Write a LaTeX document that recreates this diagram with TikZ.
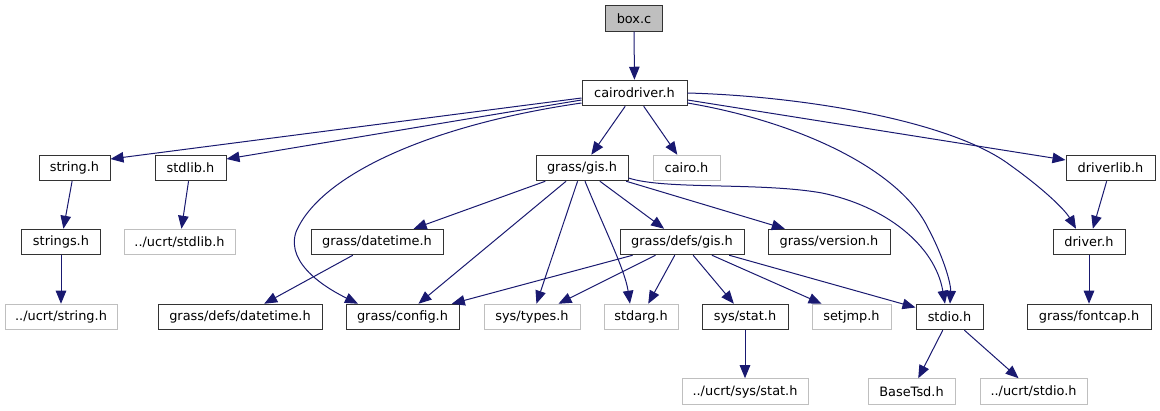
\documentclass[tikz,border=0pt]{standalone}
\usepackage{fontspec}
\setmainfont{DejaVu Sans}
\usetikzlibrary{arrows.meta}
\definecolor{edgec}{HTML}{191970}
\definecolor{grayb}{HTML}{BFBFBF}
\definecolor{nodeb}{HTML}{333333}
\begin{document}
\begin{tikzpicture}[x=1pt,y=-1pt,
  nd/.style={draw=nodeb, line width=1pt, minimum height=25.5pt, inner sep=0pt,
    font=\fontsize{12.9}{15}\selectfont, anchor=center},
  ext/.style={nd, draw=grayb},
  topnd/.style={nd, fill=grayb},
  e/.style={draw=edgec, line width=1pt, -{Triangle[length=13pt,width=10.5pt]}}]
\useasboundingbox (0,0) rectangle (1160,411);
% row 0
\node[topnd, minimum width=57pt] (box) at (634,18.5) {box.c};
% row 1
\node[nd, minimum width=105pt] (cd) at (634.5,93) {cairodriver.h};
% row 2
\node[nd, minimum width=71pt] (string) at (74.5,168) {string.h};
\node[nd, minimum width=71pt] (stdlib) at (190.5,168) {stdlib.h};
\node[nd, minimum width=92pt] (gis) at (582,168) {grass/gis.h};
\node[ext, minimum width=67pt] (cairo) at (686.5,168) {cairo.h};
\node[nd, minimum width=89pt] (driverlib) at (1110.5,168) {driverlib.h};
% row 3
\node[nd, minimum width=79pt] (strings) at (61,242) {strings.h};
\node[ext, minimum width=111pt] (ucrtstdlib) at (179.5,242) {../ucrt/stdlib.h};
\node[nd, minimum width=132pt] (datetime) at (377,242) {grass/datetime.h};
\node[nd, minimum width=124pt] (defsgis) at (682,242) {grass/defs/gis.h};
\node[nd, minimum width=122pt] (version) at (829,242) {grass/version.h};
\node[nd, minimum width=72pt] (driver) at (1089,242) {driver.h};
% row 4
\node[ext, minimum width=112pt] (ucrtstring) at (61,317) {../ucrt/string.h};
\node[nd, minimum width=164pt] (defsdatetime) at (240,317) {grass/defs/datetime.h};
\node[nd, minimum width=113pt] (config) at (402.5,317) {grass/config.h};
\node[ext, minimum width=96pt] (systypes) at (532,317) {sys/types.h};
\node[ext, minimum width=74pt] (stdarg) at (641,317) {stdarg.h};
\node[nd, minimum width=86pt] (sysstat) at (745,317) {sys/stat.h};
\node[ext, minimum width=79pt] (setjmp) at (851.5,317) {setjmp.h};
\node[nd, minimum width=67pt] (stdio) at (949.5,317) {stdio.h};
\node[nd, minimum width=124pt] (fontcap) at (1089,317) {grass/fontcap.h};
% row 5
\node[ext, minimum width=126pt] (ucrtsysstat) at (745,391.5) {../ucrt/sys/stat.h};
\node[ext, minimum width=87pt] (basetsd) at (911.5,391.5) {BaseTsd.h};
\node[ext, minimum width=107pt] (ucrtstdio) at (1033.5,391.5) {../ucrt/stdio.h};

% edges
\draw[e] (box) -- (cd);
\draw[e] ([yshift=-5pt]cd.west) -- ([yshift=9pt]string.east);
\draw[e] ([yshift=-7pt]cd.west) -- ([yshift=9pt]stdlib.east);
\draw[e] ([yshift=-10pt]cd.west) .. controls (430,125) and (320,175) .. (296,232)
   .. controls (285,265) and (330,290) .. ([xshift=-44.5pt]config.north);
\draw[e] (cd) -- (gis);
\draw[e] (cd) -- (cairo);
\draw[e] ([yshift=-7pt]cd.east) -- ([yshift=8pt]driverlib.west);
\draw[e] (cd.east) .. controls (800,96) and (950,120) .. (1010,165)
   .. controls (1045,190) and (1065,210) .. ([xshift=-13pt]driver.north);
\draw[e] ([yshift=-10pt]cd.east) .. controls (800,122) and (900,170) .. (928,228)
   .. controls (945,260) and (951,285) .. ([xshift=0.5pt]stdio.north);

\draw[e] (string) -- (strings);
\draw[e] (strings) -- (ucrtstring);
\draw[e] (stdlib) -- (ucrtstdlib);

\draw[e] (gis) -- (datetime);
\draw[e] (gis) -- (config);
\draw[e] (gis) -- (systypes);
\draw[e] ([xshift=3pt]gis.south) .. controls (605,230) and (625,270) .. ([xshift=-11pt]stdarg.north);
\draw[e] (gis) -- (defsgis);
\draw[e] (gis) -- (version);
\draw[e] ([yshift=-10pt]gis.east) .. controls (665,190) and (760,182) .. (822,193)
   .. controls (885,206) and (935,245) .. ([xshift=-4.5pt]stdio.north);

\draw[e] (datetime) -- (defsdatetime);

\draw[e] (defsgis) -- (config);
\draw[e] (defsgis) -- (systypes);
\draw[e] (defsgis) -- (stdarg);
\draw[e] (defsgis) -- (sysstat);
\draw[e] (defsgis) -- (setjmp);
\draw[e] (defsgis) -- (stdio);

\draw[e] (sysstat) -- (ucrtsysstat);
\draw[e] (stdio) -- (basetsd);
\draw[e] (stdio) -- (ucrtstdio);
\draw[e] (driverlib) -- (driver);
\draw[e] (driver) -- (fontcap);
\end{tikzpicture}
\end{document}
